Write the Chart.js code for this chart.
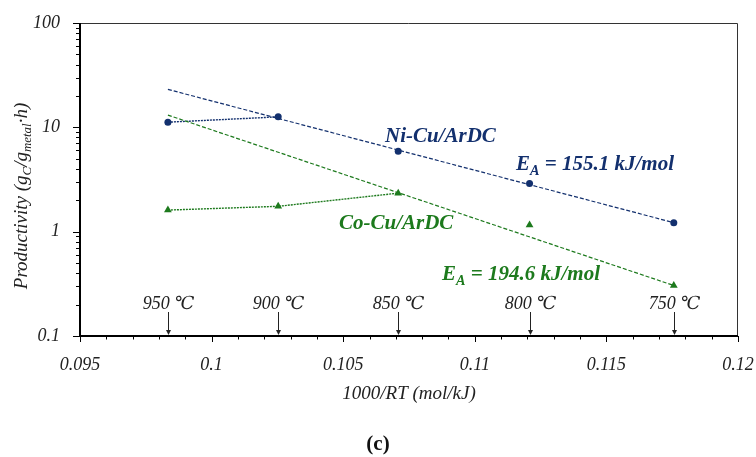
<!DOCTYPE html>
<html>
<head>
<meta charset="utf-8">
<script src="https://cdn.jsdelivr.net/npm/chart.js@4.4.1/dist/chart.umd.min.js"></script>
<style>
  html, body { margin: 0; padding: 0; background: #fff; }
  #wrap { width: 756px; height: 457px; }
</style>
</head>
<body>
<div id="wrap"><canvas id="arrhenius" width="756" height="457"></canvas></div>
<script>
"use strict";

// 1000/RT for each reaction temperature (mol/kJ)
var xValues = [0.09834, 0.10253, 0.10709, 0.11208, 0.11756];
var tempLabels = ["950 \u2103", "900 \u2103", "850 \u2103", "800 \u2103", "750 \u2103"];

// productivity (gC/gmetal·h)
var niCu = [11.2, 12.6, 5.9, 2.9, 1.22];
var coCu = [1.61, 1.75, 2.34, 1.16, 0.305];

// Arrhenius fit lines, end points
var fitX = [0.09834, 0.11756];
var niFit = [23.1, 1.22];
var coFit = [13.1, 0.305];

var xTicks = [0.095, 0.1, 0.105, 0.11, 0.115, 0.12];
var yTicks = [0.1, 1, 10, 100];

var NAVY = "#13306e";
var GREEN = "#1d7a1d";
var SERIF = "'Liberation Serif', 'DejaVu Serif', serif";

function toPoints(xs, ys) {
    var pts = [];
    for (var i = 0; i < xs.length; i++) {
        pts.push({ x: xs[i], y: ys[i] });
    }
    return pts;
}

// text with a subscript, drawn left to right from x
function drawSub(ctx, parts, x, y, size, bold) {
    var style = (bold ? "italic bold " : "italic ");
    for (var i = 0; i < parts.length; i++) {
        var p = parts[i];
        var sz = p.sub ? size * 0.68 : size;
        ctx.font = style + sz + "px " + SERIF;
        ctx.fillText(p.t, x, y + (p.sub ? size * 0.22 : 0));
        x += ctx.measureText(p.t).width;
    }
    return x;
}

function partsWidth(ctx, parts, size, bold) {
    var style = (bold ? "italic bold " : "italic ");
    var w = 0;
    for (var i = 0; i < parts.length; i++) {
        var sz = parts[i].sub ? size * 0.68 : size;
        ctx.font = style + sz + "px " + SERIF;
        w += ctx.measureText(parts[i].t).width;
    }
    return w;
}

var decorPlugin = {
    id: "decor",
    afterDraw: function (chart) {
        var ctx = chart.ctx;
        var a = chart.chartArea;
        var xs = chart.scales.x;
        var ys = chart.scales.y;
        ctx.save();

        // frame
        ctx.strokeStyle = "#333";
        ctx.lineWidth = 1;
        ctx.beginPath();
        ctx.moveTo(a.left, a.top + 0.5);
        ctx.lineTo(a.right - 0.5, a.top + 0.5);
        ctx.lineTo(a.right - 0.5, a.bottom);
        ctx.stroke();

        ctx.strokeStyle = "#000";
        ctx.lineWidth = 2;
        ctx.beginPath();
        ctx.moveTo(a.left, a.top);
        ctx.lineTo(a.left, a.bottom);
        ctx.lineTo(a.right, a.bottom);
        ctx.stroke();

        // tick marks
        ctx.lineWidth = 1;
        ctx.beginPath();
        for (var d = -1; d <= 2; d++) {
            for (var m = 1; m <= 9; m++) {
                var v = m * Math.pow(10, d);
                if (v > 100.0001) break;
                var py = Math.round(ys.getPixelForValue(v)) + 0.5;
                ctx.moveTo(a.left, py);
                ctx.lineTo(a.left - (m === 1 ? 7 : 4), py);
            }
        }
        for (var k = 95; k <= 120; k++) {
            var px = Math.round(xs.getPixelForValue(k / 1000)) + 0.5;
            ctx.moveTo(px, a.bottom);
            ctx.lineTo(px, a.bottom + (k % 5 === 0 ? 6 : 3.5));
        }
        ctx.stroke();

        // temperature markers
        ctx.fillStyle = "#222";
        ctx.strokeStyle = "#222";
        ctx.textAlign = "center";
        ctx.textBaseline = "alphabetic";
        for (var i = 0; i < xValues.length; i++) {
            var tx = Math.round(xs.getPixelForValue(xValues[i])) + 0.5;
            ctx.font = "italic 18px " + SERIF;
            ctx.fillText(tempLabels[i], tx, 309);
            ctx.beginPath();
            ctx.moveTo(tx, 312);
            ctx.lineTo(tx, a.bottom - 4);
            ctx.stroke();
            ctx.beginPath();
            ctx.moveTo(tx - 2.5, a.bottom - 6);
            ctx.lineTo(tx + 2.5, a.bottom - 6);
            ctx.lineTo(tx, a.bottom - 1);
            ctx.closePath();
            ctx.fill();
        }

        // series annotations
        ctx.textAlign = "left";
        ctx.fillStyle = NAVY;
        ctx.font = "italic bold 21px " + SERIF;
        ctx.fillText("Ni-Cu/ArDC", 385, 142);
        drawSub(ctx, [{ t: "E" }, { t: "A", sub: true }, { t: " = 155.1 kJ/mol" }], 516, 170, 21, true);

        ctx.fillStyle = GREEN;
        ctx.font = "italic bold 21px " + SERIF;
        ctx.fillText("Co-Cu/ArDC", 339, 229);
        drawSub(ctx, [{ t: "E" }, { t: "A", sub: true }, { t: " = 194.6 kJ/mol" }], 442, 280, 21, true);

        // y axis title, rotated
        var yParts = [{ t: "Productivity (g" }, { t: "C", sub: true }, { t: "/g" }, { t: "metal", sub: true }, { t: "\u00b7h)" }];
        var w = partsWidth(ctx, yParts, 19, false);
        ctx.save();
        ctx.translate(27, 196);
        ctx.rotate(-Math.PI / 2);
        ctx.fillStyle = "#222";
        drawSub(ctx, yParts, -w / 2, 0, 19, false);
        ctx.restore();

        // panel letter
        ctx.fillStyle = "#111";
        ctx.textAlign = "center";
        ctx.font = "bold 21px " + SERIF;
        ctx.fillText("(c)", 378, 450);

        ctx.restore();
    }
};

var ctx = document.getElementById("arrhenius").getContext("2d");
var chart = new Chart(ctx, {
    type: "scatter",
    data: {
        datasets: [{
            label: "Ni-Cu fit",
            data: toPoints(fitX, niFit),
            showLine: true,
            borderColor: NAVY,
            borderWidth: 1.2,
            borderDash: [4, 2],
            pointRadius: 0
        }, {
            label: "Co-Cu fit",
            data: toPoints(fitX, coFit),
            showLine: true,
            borderColor: GREEN,
            borderWidth: 1.2,
            borderDash: [4, 2],
            pointRadius: 0
        }, {
            label: "Ni-Cu/ArDC",
            data: toPoints(xValues, niCu),
            showLine: true,
            borderColor: NAVY,
            borderWidth: 1.4,
            borderDash: [2, 1],
            segment: {
                borderColor: function (c) { return c.p0DataIndex >= 1 ? "transparent" : undefined; }
            },
            pointStyle: "circle",
            pointRadius: 3.5,
            pointBackgroundColor: NAVY,
            pointBorderColor: NAVY,
            pointBorderWidth: 0
        }, {
            label: "Co-Cu/ArDC",
            data: toPoints(xValues, coCu),
            showLine: true,
            borderColor: GREEN,
            borderWidth: 1.4,
            borderDash: [2, 1],
            segment: {
                borderColor: function (c) { return c.p0DataIndex >= 2 ? "transparent" : undefined; }
            },
            pointStyle: "triangle",
            pointRadius: 4.5,
            pointBackgroundColor: GREEN,
            pointBorderColor: GREEN,
            pointBorderWidth: 0
        }]
    },
    options: {
        responsive: false,
        animation: false,
        layout: { padding: { top: 23, right: 18, bottom: 55, left: 0 } },
        plugins: {
            legend: { display: false },
            tooltip: { enabled: false }
        },
        scales: {
            x: {
                type: "linear",
                min: 0.095,
                max: 0.12,
                grid: { display: false },
                border: { display: false },
                afterBuildTicks: function (s) {
                    s.ticks = xTicks.map(function (v) { return { value: v }; });
                },
                afterFit: function (s) {
                    s.height = 66;
                    s.paddingLeft = 0;
                    s.paddingRight = 0;
                },
                ticks: {
                    padding: 10,
                    maxRotation: 0,
                    color: "#222",
                    font: { family: SERIF, size: 18, style: "italic" },
                    callback: function (v) { return String(v); }
                },
                title: {
                    display: true,
                    text: "1000/RT (mol/kJ)",
                    color: "#222",
                    padding: { top: 0, bottom: -3 },
                    font: { family: SERIF, size: 19, style: "italic" }
                }
            },
            y: {
                type: "logarithmic",
                min: 0.1,
                max: 100,
                grid: { display: false },
                border: { display: false },
                afterBuildTicks: function (s) {
                    s.ticks = yTicks.map(function (v) { return { value: v }; });
                },
                afterFit: function (s) { s.width = 80; },
                ticks: {
                    padding: 12,
                    color: "#222",
                    font: { family: SERIF, size: 18, style: "italic" },
                    callback: function (v) { return String(v); }
                }
            }
        }
    },
    plugins: [decorPlugin]
});
</script>
</body>
</html>
